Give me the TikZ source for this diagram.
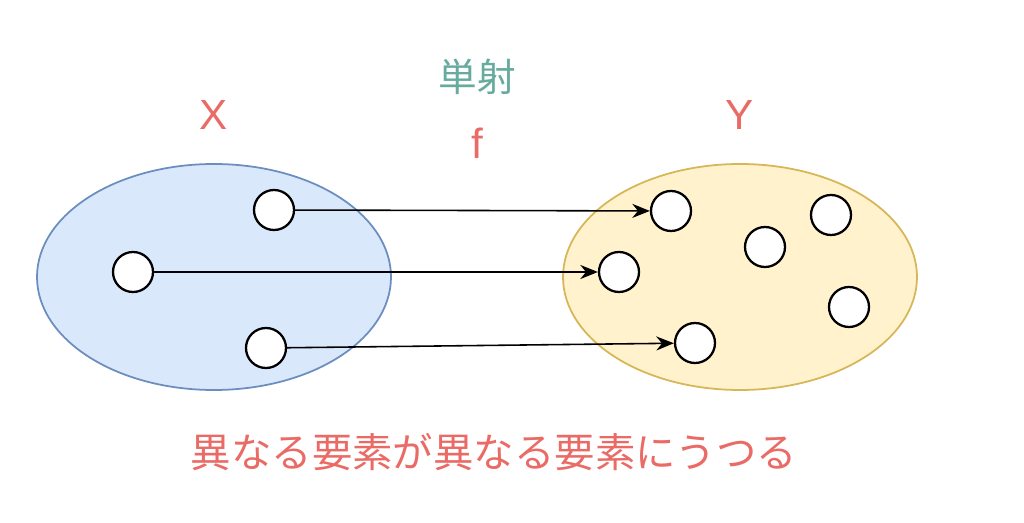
\documentclass[tikz,border=0pt]{standalone}
\usepackage{fontspec}
\setmainfont{Liberation Sans}
\newfontfamily\cjk{Noto Sans CJK JP}
\usetikzlibrary{arrows.meta}
\definecolor{setblue}{HTML}{DAE8FC}
\definecolor{setbluedraw}{HTML}{6C8EBF}
\definecolor{setyellow}{HTML}{FFF2CC}
\definecolor{setyellowdraw}{HTML}{D6B656}
\definecolor{labred}{HTML}{EA6B66}
\definecolor{labgreen}{HTML}{67AB9F}
\begin{document}
\begin{tikzpicture}[x=0.02cm,y=-0.02cm,
  elem/.style={circle,draw=black,fill=white,line width=1.3pt,minimum size=40*0.02cm,inner sep=0pt},
  mapsto/.style={draw=black,line width=0.9pt,-{Stealth[length=10pt,width=8pt]}},
  biglabel/.style={text=labred,font=\fontsize{24}{28}\selectfont},
  jplabel/.style={font=\cjk\fontsize{22}{26}\selectfont},
  caplabel/.style={font=\cjk\fontsize{23}{27}\selectfont}]
\useasboundingbox (0,0) rectangle (1024,523);
\draw[fill=setblue,draw=setbluedraw,line width=1pt] (214,277) ellipse [x radius=177,y radius=113];
\draw[fill=setyellow,draw=setyellowdraw,line width=1pt] (740,277) ellipse [x radius=177,y radius=113];
\node[jplabel,text=labgreen] (title) at (477,77) {単射};
\node[biglabel] (X) at (214,115) {X};
\node[biglabel] (f) at (477,143) {f};
\node[biglabel] (Y) at (740,115) {Y};
\node[elem] (x1) at (274,210) {};
\node[elem] (x2) at (133,272) {};
\node[elem] (x3) at (266,348) {};
\node[elem] (y1) at (671,211) {};
\node[elem] (y2) at (619,272) {};
\node[elem] (y3) at (695,343) {};
\node[elem] (y4) at (765,247) {};
\node[elem] (y5) at (831,215) {};
\node[elem] (y6) at (849,307) {};
\draw[mapsto] (x1) -- (y1);
\draw[mapsto] (x2) -- (y2);
\draw[mapsto] (x3) -- (y3);
\node[caplabel,text=labred] (caption) at (494,452) {異なる要素が異なる要素にうつる};
\end{tikzpicture}
\end{document}
